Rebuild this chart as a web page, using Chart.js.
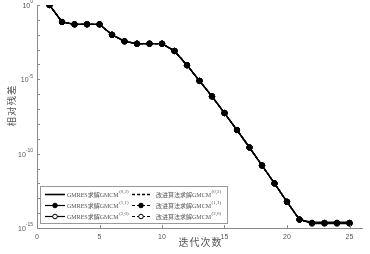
<!DOCTYPE html>
<html>
<head>
<meta charset="utf-8">
<script src="https://cdn.jsdelivr.net/npm/chart.js@4.4.1/dist/chart.umd.min.js"></script>
<style>
    html, body { margin: 0; padding: 0; background: #fff; }
    #wrap { position: relative; width: 370px; height: 254px; }
</style>
</head>
<body>
<div id="wrap"><canvas id="resChart" width="370" height="254"></canvas></div>
<script>
// iteration counts
const iters = [1, 2, 3, 4, 5, 6, 7, 8, 9, 10, 11, 12, 13, 14, 15, 16, 17, 18, 19, 20, 21, 22, 23, 24, 25];

// relative residuals
const gmres02 = [1, 7.2e-2, 5.0e-2, 5.0e-2, 5.0e-2, 1.0e-2, 3.6e-3, 2.5e-3, 2.5e-3, 2.5e-3, 8.1e-4, 8.9e-5, 7.9e-6, 7.1e-7, 5.4e-8, 3.9e-9, 2.6e-10, 1.6e-11, 1.0e-12, 5.8e-14, 3.7e-15, 2.5e-15, 2.5e-15, 2.5e-15, 2.5e-15];
const gmres11 = [1, 7.2e-2, 5.0e-2, 5.0e-2, 5.0e-2, 1.0e-2, 3.6e-3, 2.5e-3, 2.5e-3, 2.5e-3, 8.1e-4, 8.9e-5, 7.9e-6, 7.1e-7, 5.4e-8, 3.9e-9, 2.6e-10, 1.6e-11, 1.0e-12, 5.8e-14, 3.7e-15, 2.2e-15, 2.2e-15, 2.2e-15, 2.2e-15];
const gmres20 = [1, 7.2e-2, 5.0e-2, 5.0e-2, 5.0e-2, 1.0e-2, 3.6e-3, 2.5e-3, 2.5e-3, 2.5e-3, 8.1e-4, 8.9e-5, 7.9e-6, 7.1e-7, 5.4e-8, 3.9e-9, 2.6e-10, 1.6e-11, 1.0e-12, 5.8e-14, 3.7e-15, 2.0e-15, 2.0e-15, 2.0e-15, 2.0e-15];
const impr02 = [1, 7.2e-2, 5.0e-2, 5.0e-2, 5.0e-2, 1.0e-2, 3.6e-3, 2.5e-3, 2.5e-3, 2.5e-3, 8.1e-4, 8.9e-5, 7.9e-6, 7.1e-7, 5.4e-8, 3.9e-9, 2.6e-10, 1.6e-11, 1.0e-12, 5.8e-14, 3.7e-15, 2.3e-15, 2.3e-15, 2.3e-15, 2.3e-15];
const impr11 = [1, 7.2e-2, 5.0e-2, 5.0e-2, 5.0e-2, 1.0e-2, 3.6e-3, 2.5e-3, 2.5e-3, 2.5e-3, 8.1e-4, 8.9e-5, 7.9e-6, 7.1e-7, 5.4e-8, 3.9e-9, 2.6e-10, 1.6e-11, 1.0e-12, 5.8e-14, 3.7e-15, 2.2e-15, 2.2e-15, 2.2e-15, 2.2e-15];
const impr20 = [1, 7.2e-2, 5.0e-2, 5.0e-2, 5.0e-2, 1.0e-2, 3.6e-3, 2.5e-3, 2.5e-3, 2.5e-3, 8.1e-4, 8.9e-5, 7.9e-6, 7.1e-7, 5.4e-8, 3.9e-9, 2.6e-10, 1.6e-11, 1.0e-12, 5.8e-14, 3.7e-15, 2.1e-15, 2.1e-15, 2.1e-15, 2.1e-15];

// axes
const xTicks = [0, 5, 10, 15, 20, 25];
const yTicks = [1, 1e-1, 1e-2, 1e-3, 1e-4, 1e-5, 1e-6, 1e-7, 1e-8, 1e-9, 1e-10, 1e-11, 1e-12, 1e-13, 1e-14, 1e-15];
const yMajor = [1, 1e-5, 1e-10, 1e-15];
const yMajorExp = ['0', '-5', '-10', '-15'];
const xTitle = '迭代次数';
const yTitle = '相对残差';

const legendLabels = [
    ['GMRES求解GMCM', '(0,2)'],
    ['GMRES求解GMCM', '(1,1)'],
    ['GMRES求解GMCM', '(2,0)'],
    ['改进算法求解GMCM', '(0,2)'],
    ['改进算法求解GMCM', '(1,1)'],
    ['改进算法求解GMCM', '(2,0)']
];

const AXIS = '#8a8a8a';
const TXT = '#555';
const SERIF = '"Liberation Serif", "Noto Sans CJK SC", serif';
const SANS = '"Liberation Sans", Arial, sans-serif';

function pts(arr) {
    return arr.map((v, i) => ({ x: iters[i], y: v }));
}

function series(arr, dash, style, fill, order) {
    return {
        data: pts(arr),
        borderColor: '#000',
        borderWidth: 1.3,
        borderDash: dash,
        pointStyle: style === 'none' ? false : 'circle',
        pointRadius: style === 'none' ? 0 : 2.7,
        pointBorderColor: '#000',
        pointBorderWidth: 1,
        pointBackgroundColor: fill,
        order: order
    };
}

/* ===============================
   TICKS + AXIS TEXT
================================ */
const axisDecor = {
    id: 'axisDecor',
    afterDatasetsDraw(chart) {
        const { ctx, chartArea, scales } = chart;
        ctx.save();
        ctx.strokeStyle = AXIS;
        ctx.lineWidth = 1;
        ctx.beginPath();
        xTicks.forEach(v => {
            const x = Math.round(scales.x.getPixelForValue(v)) + 0.5;
            ctx.moveTo(x, chartArea.bottom);
            ctx.lineTo(x, chartArea.bottom - 3);
        });
        yTicks.forEach(v => {
            const y = Math.round(scales.y.getPixelForValue(v)) + 0.5;
            ctx.moveTo(chartArea.left, y);
            ctx.lineTo(chartArea.left + 3, y);
        });
        ctx.stroke();

        // y labels 10^n
        ctx.fillStyle = TXT;
        ctx.textBaseline = 'middle';
        yMajor.forEach((v, i) => {
            const y = scales.y.getPixelForValue(v);
            ctx.font = '5px ' + SANS;
            const ew = ctx.measureText(yMajorExp[i]).width;
            const right = chartArea.left - 4;
            ctx.textAlign = 'right';
            ctx.fillText(yMajorExp[i], right, y - 3);
            ctx.font = '7px ' + SANS;
            ctx.fillText('10', right - ew, y + 1);
        });

        // axis titles, spaced like the original
        ctx.font = '10px ' + SERIF;
        ctx.textAlign = 'center';
        const xc = 200;
        [...xTitle].forEach((ch, i) => {
            ctx.fillText(ch, xc + (i - 1.5) * 11, 243);
        });
        ctx.translate(12, 106);
        ctx.rotate(-Math.PI / 2);
        ctx.font = '9.5px ' + SERIF;
        [...yTitle].forEach((ch, i) => {
            ctx.fillText(ch, (i - 1.5) * 10.5, 0);
        });
        ctx.restore();
    }
};

/* ===============================
   LEGEND BOX
================================ */
const legendBox = {
    id: 'legendBox',
    afterDraw(chart) {
        const ctx = chart.ctx;
        const bx = 40.5, by = 186.5, bw = 187, bh = 37;
        ctx.save();
        ctx.fillStyle = '#fff';
        ctx.fillRect(bx, by, bw, bh);
        ctx.strokeStyle = '#999';
        ctx.lineWidth = 1;
        ctx.strokeRect(bx, by, bw, bh);

        const rows = [194, 205, 216];
        const cols = [
            { x0: 45, x1: 65, tx: 67, dash: [] },
            { x0: 132, x1: 150, tx: 156, dash: [3, 2] }
        ];
        const marks = ['none', 'filled', 'open'];

        legendLabels.forEach((lab, i) => {
            const c = cols[Math.floor(i / 3)];
            const y = rows[i % 3] + 0.5;
            ctx.strokeStyle = '#000';
            ctx.lineWidth = i % 3 === 0 ? 1.6 : 1.2;
            ctx.setLineDash(c.dash);
            ctx.beginPath();
            ctx.moveTo(c.x0, y);
            ctx.lineTo(c.x1, y);
            ctx.stroke();
            ctx.setLineDash([]);
            const m = marks[i % 3];
            if (m !== 'none') {
                ctx.beginPath();
                ctx.arc((c.x0 + c.x1) / 2, y, 2.3, 0, Math.PI * 2);
                ctx.fillStyle = m === 'filled' ? '#000' : '#fff';
                ctx.fill();
                ctx.lineWidth = 1;
                ctx.stroke();
            }
            ctx.fillStyle = TXT;
            ctx.textBaseline = 'middle';
            ctx.textAlign = 'left';
            ctx.font = '6px ' + SERIF;
            ctx.fillText(lab[0], c.tx, y + 1);
            const w = ctx.measureText(lab[0]).width;
            ctx.font = '5px ' + SERIF;
            ctx.fillText(lab[1], c.tx + w + 0.5, y - 2.5);
        });
        ctx.restore();
    }
};

document.addEventListener('DOMContentLoaded', () => {
    new Chart(document.getElementById('resChart'), {
        type: 'line',
        data: {
            datasets: [
                series(gmres11, [], 'filled', '#000', 0),
                series(impr11, [3, 2], 'filled', '#000', 1),
                series(gmres20, [], 'open', '#fff', 2),
                series(impr20, [3, 2], 'open', '#fff', 3),
                series(gmres02, [], 'none', '#000', 4),
                series(impr02, [3, 2], 'none', '#000', 5)
            ]
        },
        options: {
            responsive: false,
            animation: false,
            devicePixelRatio: 1,
            layout: { padding: { top: 5, right: 8, left: 0, bottom: 0 } },
            plugins: { legend: { display: false }, tooltip: { enabled: false } },
            scales: {
                x: {
                    type: 'linear',
                    min: 0,
                    max: 26,
                    afterBuildTicks: axis => { axis.ticks = xTicks.map(v => ({ value: v })); },
                    afterFit: scale => { scale.height = 26; },
                    grid: { display: false, drawTicks: false },
                    border: { display: true, color: AXIS, width: 1 },
                    ticks: {
                        color: TXT,
                        padding: 5,
                        maxRotation: 0,
                        font: { family: SANS, size: 7 }
                    }
                },
                y: {
                    type: 'logarithmic',
                    min: 1e-15,
                    max: 1,
                    afterBuildTicks: axis => { axis.ticks = yTicks.map(v => ({ value: v })); },
                    afterFit: scale => { scale.width = 37; },
                    grid: { display: false, drawTicks: false },
                    border: { display: true, color: AXIS, width: 1 },
                    ticks: { display: false }
                }
            }
        },
        plugins: [axisDecor, legendBox]
    });
});
</script>
</body>
</html>
